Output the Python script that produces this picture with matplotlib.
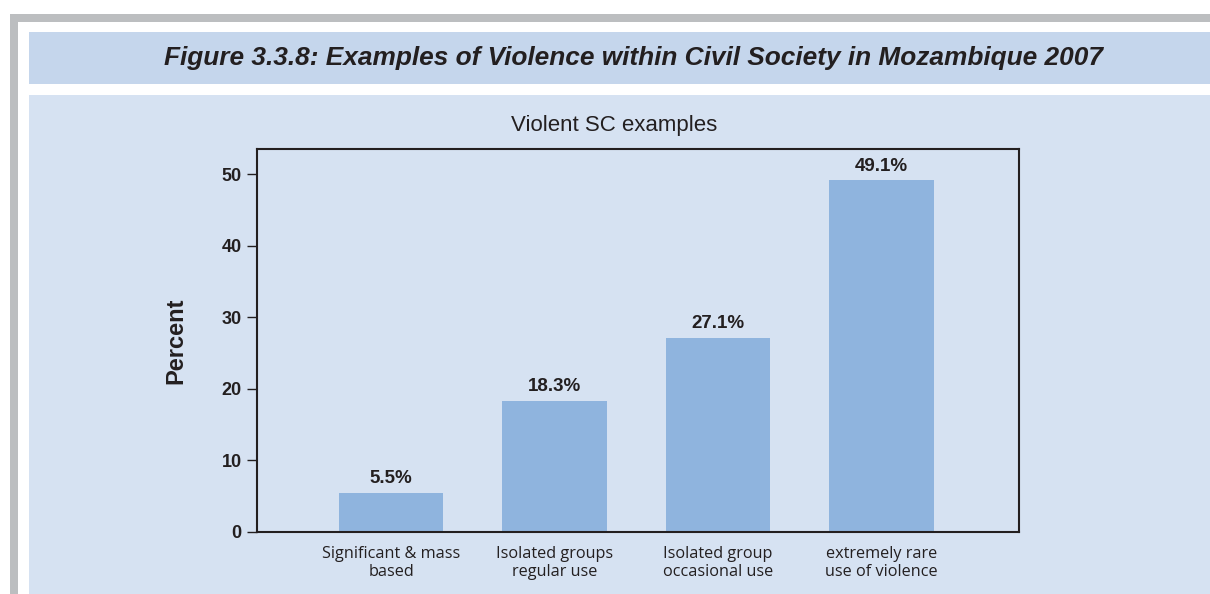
import matplotlib.pyplot as plt
from matplotlib.patches import Rectangle

categories = ["Significant & mass\nbased", "Isolated groups\nregular use",
              "Isolated group\noccasional use", "extremely rare\nuse of violence"]
values = [5.5, 18.3, 27.1, 49.1]
value_labels = ["5.5%", "18.3%", "27.1%", "49.1%"]
yticks = [0, 10, 20, 30, 40, 50]

W, H = 1210, 594
fig = plt.figure(figsize=(W / 100, H / 100), dpi=100)
fig.patch.set_facecolor("white")


def px_rect(x0, y0, x1, y1, color):
    # rectangle in pixel coords (origin top-left), kept behind the axes
    fig.patches.append(Rectangle((x0 / W, 1 - y1 / H), (x1 - x0) / W, (y1 - y0) / H,
                                 transform=fig.transFigure, facecolor=color,
                                 edgecolor="none", zorder=-5))


# gray frame, title band, panel
px_rect(10, 14, W, H, "#bcbec0")
px_rect(18, 22, W, H, "white")
px_rect(29, 32, W, 84, "#c5d6ec")
px_rect(29, 95, W, H, "#d6e2f2")

fig.text(633 / W, 1 - 58 / H, "Figure 3.3.8: Examples of Violence within Civil Society in Mozambique 2007",
         ha="center", va="center", fontsize=18.9, fontweight="bold", style="italic",
         family="Liberation Sans", color="#231f20")

ax = fig.add_axes([257 / W, (H - 532) / H, 762 / W, (532 - 149) / H])
ax.set_facecolor("#d6e2f2")
ax.bar(range(len(values)), values, width=0.64, color="#8fb4de", zorder=2)
for i, (v, lab) in enumerate(zip(values, value_labels)):
    ax.annotate(lab, (i, v), xytext=(0, 4), textcoords="offset points",
                ha="center", va="bottom", fontsize=13.5, fontweight="bold",
                family="Liberation Sans", color="#231f20")

ax.set_xlim(-0.82, 3.84)
ax.set_ylim(0, 53.5)
ax.set_yticks(yticks)
ax.set_yticklabels([str(t) for t in yticks], fontsize=13, fontweight="bold",
                   family="Liberation Sans", color="#231f20")
ax.set_xticks(range(len(categories)))
ax.set_xticklabels(categories, fontsize=11.7, family="Open Sans", color="#231f20",
                   linespacing=1.15)
ax.tick_params(axis="x", length=0, pad=10)
ax.tick_params(axis="y", direction="out", length=7, width=1, color="#231f20", pad=4)
for s in ax.spines.values():
    s.set_color("#231f20")
    s.set_linewidth(1.5)

ax.set_ylabel("Percent", fontsize=17, fontweight="bold", family="Liberation Sans",
              color="#231f20", labelpad=25)
fig.text(614 / W, 1 - 126 / H, "Violent SC examples", ha="center", va="center",
         fontsize=16, family="Liberation Sans", color="#231f20")

fig.savefig("out.png", dpi=100)
